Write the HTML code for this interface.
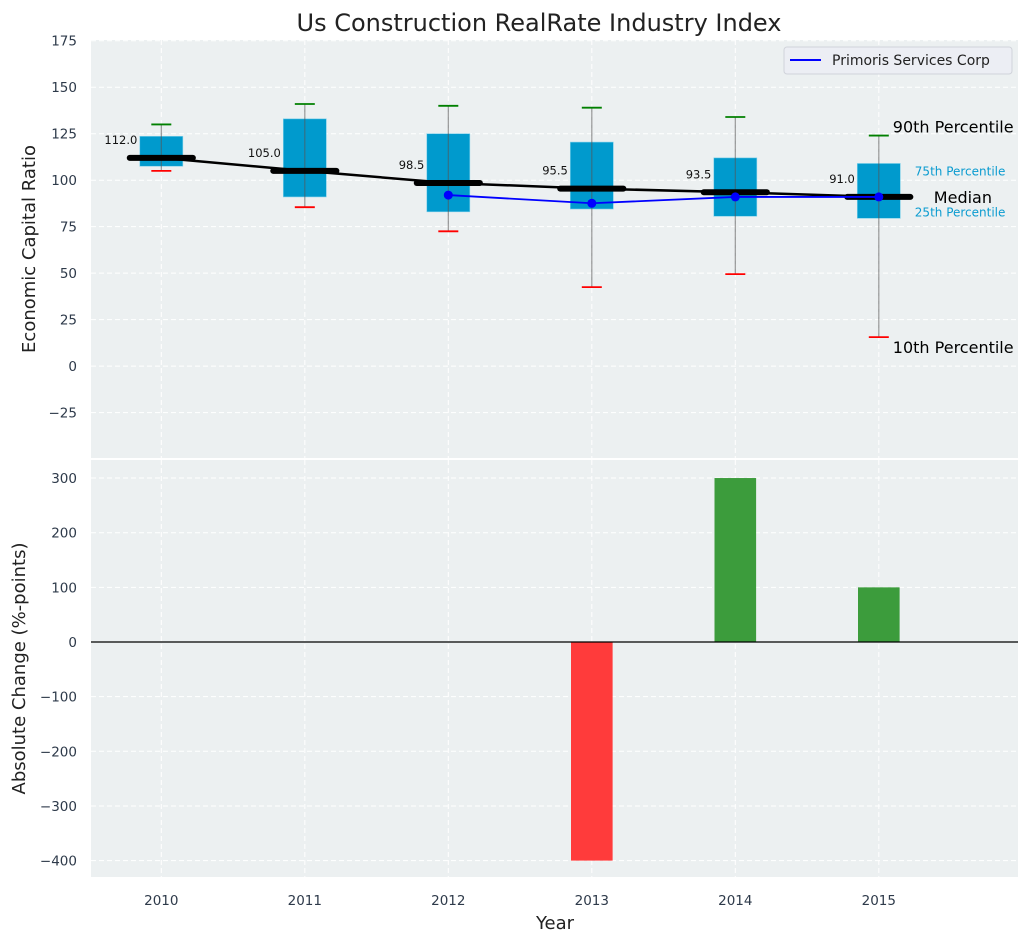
<!DOCTYPE html>
<html><head><meta charset="utf-8"><style>
body{margin:0;background:#fff;}
svg{display:block;font-family:"DejaVu Sans","Liberation Sans",sans-serif;}
</style></head><body>
<svg id="c" width="1029" height="942" xmlns="http://www.w3.org/2000/svg"></svg>
<script>
const years=[2010,2011,2012,2013,2014,2015];
const p10=[105,85.5,72.5,42.5,49.5,15.6];
const p25=[107.5,91,83,84.5,80.6,79.5];
const medians=[112,105,98.5,95.5,93.5,91];
const p75=[123.6,133,125,120.5,112,109];
const p90=[130,141,140,139,134,124];
const primYears=[2012,2013,2014,2015];
const primoris=[92,87.6,91,91];
const changes=[0,0,0,-400,300,100];
const topTicks=[-25,0,25,50,75,100,125,150,175];
const botTicks=[-400,-300,-200,-100,0,100,200,300];

const NS="http://www.w3.org/2000/svg";
const svg=document.getElementById('c');
function el(t,a,p){const e=document.createElementNS(NS,t);for(const k in a)e.setAttribute(k,a[k]);(p||svg).appendChild(e);return e;}
const fmt=v=>(v<0?'\u2212':'')+Math.abs(v);
const L=91,R=1018;
const x=v=>L+(v-2009.51)*(R-L)/(2015.97-2009.51);
const T0=40,T1=458,B0=460,B1=877;
const yT=v=>T0+(175.4-v)*(T1-T0)/(175.4+49.4);
const yB=v=>B0+(333-v)*(B1-B0)/(333+430);

let t=el('text',{x:539,y:31,'text-anchor':'middle','font-size':24,fill:'#222'});t.textContent='Us Construction RealRate Industry Index';


let bg=el('rect',{x:L,y:T0,width:R-L,height:T1-T0,fill:'#ecf0f1'});

let bg2=el('rect',{x:L,y:B0,width:R-L,height:B1-B0,fill:'#ecf0f1'});


const grid=el('g',{stroke:'#fff','stroke-dasharray':'5,3','stroke-width':1});

years.forEach(yr=>{el('line',{x1:x(yr),x2:x(yr),y1:T0,y2:T1},grid);el('line',{x1:x(yr),x2:x(yr),y1:B0,y2:B1},grid);});
topTicks.forEach(v=>{el('line',{x1:L,x2:R,y1:yT(v),y2:yT(v)},grid);
 const tx=el('text',{x:L-14,y:yT(v)+5,'text-anchor':'end','font-size':13.5,fill:'#2e3a4a'});tx.textContent=fmt(v);
 });
botTicks.forEach(v=>{el('line',{x1:L,x2:R,y1:yB(v),y2:yB(v)},grid);
 const tx=el('text',{x:L-14,y:yB(v)+5,'text-anchor':'end','font-size':13.5,fill:'#2e3a4a'});tx.textContent=fmt(v);
 });
years.forEach(yr=>{const tx=el('text',{x:x(yr),y:905,'text-anchor':'middle','font-size':13.5,fill:'#2e3a4a'});tx.textContent=yr;
 });

let a1=el('text',{x:0,y:0,'text-anchor':'middle','font-size':18,fill:'#222',transform:`translate(35,${(T0+T1)/2})  rotate(-90)`});a1.textContent='Economic Capital Ratio';

let a2=el('text',{x:0,y:0,'text-anchor':'middle','font-size':18,fill:'#222',transform:`translate(25,${(B0+B1)/2})  rotate(-90)`});a2.textContent='Absolute Change (%-points)';

let a3=el('text',{x:555,y:929,'text-anchor':'middle','font-size':18,fill:'#222'});a3.textContent='Year';


const bw=(x(2010.15)-x(2009.85));
years.forEach((yr,i)=>{
 const g=el('g',{});
 el('rect',{x:x(yr)-bw/2,y:yT(p75[i]),width:bw,height:yT(p25[i])-yT(p75[i]),fill:'#009acd',stroke:'#7fd0ea','stroke-width':0.6},g);
 el('line',{x1:x(yr),x2:x(yr),y1:yT(p90[i]),y2:yT(p10[i]),stroke:'#555','stroke-opacity':0.6,'stroke-width':1.2},g);
 el('line',{x1:x(yr)-10,x2:x(yr)+10,y1:yT(p90[i]),y2:yT(p90[i]),stroke:'green','stroke-width':1.8},g);
 el('line',{x1:x(yr)-10,x2:x(yr)+10,y1:yT(p10[i]),y2:yT(p10[i]),stroke:'red','stroke-width':1.8},g);
});
let mp=years.map((yr,i)=>x(yr)+','+yT(medians[i])).join(' ');
let ml=el('polyline',{points:mp,fill:'none',stroke:'#000','stroke-width':2.5});

const mw=x(2010.22)-x(2009.78);
years.forEach((yr,i)=>{
 const m=el('line',{x1:x(yr)-mw/2,x2:x(yr)+mw/2,y1:yT(medians[i]),y2:yT(medians[i]),stroke:'#000','stroke-width':6,'stroke-linecap':'round'});
 
 const lb=el('text',{x:x(yr)-24,y:yT(medians[i])-14,'text-anchor':'end','font-size':11.5,fill:'#111'});lb.textContent=medians[i].toFixed(1);
 
});
let pp=primYears.map((yr,i)=>x(yr)+','+yT(primoris[i])).join(' ');
let pl=el('polyline',{points:pp,fill:'none',stroke:'#0000ff','stroke-width':1.8});

primYears.forEach((yr,i)=>{const c=el('circle',{cx:x(yr),cy:yT(primoris[i]),r:4.5,fill:'#0000ff'});
 });

const last=years.length-1,xl=x(years[last]);
function ann(txt,xx,yy,fs,col,name){const a=el('text',{x:xx,y:yy,'font-size':fs,fill:col});a.textContent=txt;}
ann('90th Percentile',xl+14,yT(p90[last])-3,16,'#000','annotation-p90');
ann('75th Percentile',xl+36,yT(p75[last])+12,12,'#0a9bd0','annotation-p75');
ann('Median',xl+55,yT(medians[last])+6,16,'#000','annotation-median');
ann('25th Percentile',xl+36,yT(p25[last])-2,12,'#0a9bd0','annotation-p25');
ann('10th Percentile',xl+14,yT(p10[last])+16,16,'#000','annotation-p10');

const lg=el('g',{});
el('rect',{x:784,y:47,width:228,height:27,rx:3,fill:'#eceef4',stroke:'#d0d3da'},lg);
el('line',{x1:790,x2:821,y1:60,y2:60,stroke:'#0000ff','stroke-width':2},lg);
let lt=el('text',{x:832,y:65,'font-size':14,fill:'#222'},lg);lt.textContent='Primoris Services Corp';

const barw=x(2010.145)-x(2009.855);
years.forEach((yr,i)=>{
 const v=changes[i];if(v===0)return;
 const b=el('rect',{x:x(yr)-barw/2,y:Math.min(yB(v),yB(0)),width:barw,height:Math.abs(yB(v)-yB(0)),fill:v<0?'#ff3b3b':'#3c9c3c'});
 
});
let zl=el('line',{x1:L,x2:R,y1:yB(0),y2:yB(0),stroke:'#000','stroke-width':1.2});

</script>
</body></html>
